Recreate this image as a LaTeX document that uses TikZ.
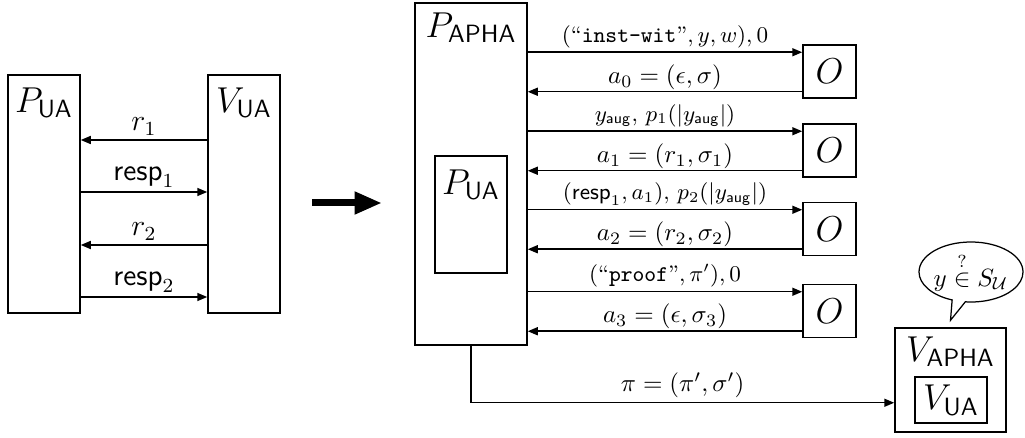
\documentclass[tikz,border=0pt]{standalone}
\usepackage{tikz}
\usetikzlibrary{positioning,arrows.meta,calc,shapes.callouts}
\newcommand{\pxl}{0.4pt}
\tikzset{
  box/.style={draw,line width=0.6pt,inner sep=0pt},
  arr/.style={-{Triangle[length=4pt,width=3.2pt]},line width=0.6pt},
  big/.style={-{Triangle[length=11pt,width=8.5pt]},line width=2.8pt},
  lbl/.style={inner sep=1.5pt},
  bubble/.style={ellipse callout,draw,line width=0.5pt,inner sep=0pt},
}

\begin{document}
\begin{tikzpicture}[x=\pxl,y=-\pxl]
\useasboundingbox (0,0) rectangle (1025,438);
% the UA protocol
\node[box,minimum width=72*\pxl,minimum height=238*\pxl] (pl) at (44,194) {};
\node[box,minimum width=72*\pxl,minimum height=238*\pxl] (vl) at (244,194) {};
\node[font=\Large,inner sep=0pt,below=5.2pt of pl.north] (plt) {$P_{\mathsf{UA}}$};
\node[font=\Large,inner sep=0pt,below=5.2pt of vl.north] (vlt) {$V_{\mathsf{UA}}$};
\draw[arr] (vl.west |- 0,140) -- node[lbl,above,font=\large]{$r_1$} (pl.east |- 0,140);
\draw[arr] (pl.east |- 0,192) -- node[lbl,above,font=\large]{$\mathsf{resp}_1$} (vl.west |- 0,192);
\draw[arr] (vl.west |- 0,245) -- node[lbl,above,font=\large]{$r_2$} (pl.east |- 0,245);
\draw[arr] (pl.east |- 0,297) -- node[lbl,above,font=\large]{$\mathsf{resp}_2$} (vl.west |- 0,297);
\coordinate (bs) at (312,203);
\coordinate (be) at (382,203);
\draw[big] (bs) -- (be);
% the APHA prover with its oracle calls
\node[box,minimum width=112*\pxl,minimum height=342*\pxl] (pa) at (471,174) {};
\node[font=\Large,inner sep=0pt,below=4pt of pa.north] (pat) {$P_{\mathsf{APHA}}$};
\node[box,minimum width=72*\pxl,minimum height=117*\pxl] (pi) at (471,214.5) {};
\node[font=\Large,inner sep=0pt,below=5.6pt of pi.north] (pit) {$P_{\mathsf{UA}}$};
\foreach \ob/\yy in {o1/71.5,o2/150.5,o3/229,o4/311}
  \node[box,minimum size=53*\pxl,font=\Large] (\ob) at (829.5,\yy) {$O$};
\foreach \ob/\q/\a in {
  o1/{$(\mbox{``\texttt{inst-wit}''}, y, w), 0$}/{$a_0 = (\epsilon, \sigma)$},
  o2/{$y_{\mathsf{aug}},\, p_1(|y_{\mathsf{aug}}|)$}/{$a_1 = (r_1, \sigma_1)$},
  o3/{$(\mathsf{resp}_1, a_1),\, p_2(|y_{\mathsf{aug}}|)$}/{$a_2 = (r_2, \sigma_2)$},
  o4/{$(\mbox{``\texttt{proof}''}, \pi'), 0$}/{$a_3 = (\epsilon, \sigma_3)$}}{
  \coordinate (\ob q) at ($(\ob.north west)+(0,8)$);
  \coordinate (\ob a) at ($(\ob.south west)+(0,-7)$);
  \draw[arr] (\ob q -| pa.east) -- node[lbl,above,font=\small]{\q} (\ob q);
  \draw[arr] (\ob a) -- node[lbl,above,inner sep=0.5pt]{\a} (\ob a -| pa.east);
}
% the APHA verifier
\node[box,minimum width=111*\pxl,minimum height=104*\pxl] (va) at (950.5,380) {};
\node[font=\Large,inner sep=0pt,below=3.6pt of va.north] (vat) {$V_{\mathsf{APHA}}$};
\node[box,minimum width=72*\pxl,minimum height=46*\pxl,font=\Large] (vi) at (951,400) {$V_{\mathsf{UA}}$};
\coordinate (vin) at ($(va.south west)+(0,-30)$);
\draw[arr] (pa.south) |- node[lbl,above,pos=0.75]{$\pi = (\pi', \sigma')$} (vin);
\node[bubble,minimum width=104*\pxl,minimum height=60*\pxl,callout absolute pointer={($(va.north)+(0,-7)$)}] (bub) at (971,272) {};
\node[inner sep=0pt] (bubt) at (bub.center) {$y \stackrel{?}{\in} S_{\mathcal{U}}$};
\end{tikzpicture}
\end{document}
